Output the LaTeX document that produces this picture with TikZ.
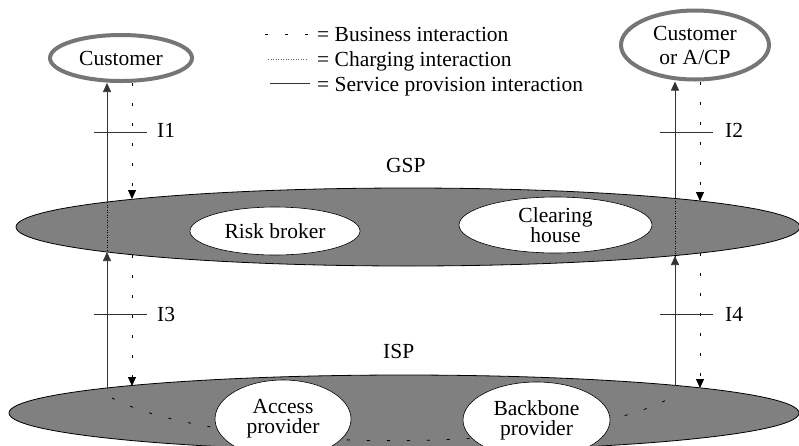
\documentclass[tikz,border=0pt]{standalone}
\usepackage{fontspec}
\setmainfont{Liberation Serif}
\usetikzlibrary{shapes.geometric,arrows.meta}
\definecolor{layergray}{RGB}{128,128,128}
\definecolor{rimgray}{RGB}{118,118,118}
\begin{document}
\begin{tikzpicture}[x=1pt,y=-1pt,
  every node/.style={font=\fontsize{21.5}{24}\selectfont},
  layer/.style={ellipse,draw=black,line width=0.8pt,fill=layergray,inner sep=0pt},
  role/.style={ellipse,draw=black,line width=0.6pt,fill=white,inner sep=0pt,align=center,font=\fontsize{21.5}{20}\selectfont},
  actor/.style={ellipse,draw=rimgray,line width=4pt,fill=white,inner sep=0pt,align=center},
  svc/.style={line width=0.7pt,draw=black!80},
  bus/.style={line width=0.8pt,dash pattern=on 3pt off 17pt},
  chg/.style={line width=0.6pt,dash pattern=on 1pt off 1.5pt},
  tip/.style={-{Triangle[width=8pt,length=9pt]}},
  lbl/.style={anchor=base west,inner sep=0pt}]
\useasboundingbox (0,0) rectangle (799,445);
\clip (0,0) rectangle (799,445);

% actors
\node[actor,minimum width=142pt,minimum height=46pt] (cust) at (121,58) {Customer};
\node[actor,minimum width=148pt,minimum height=69pt] (cacp) at (695,45) {Customer\\or A/CP};

% legend
\coordinate (lb1s) at (265,34); \coordinate (lb1e) at (313,34);
\coordinate (lb2s) at (268,59); \coordinate (lb2e) at (307,59);
\coordinate (lb3s) at (270,83); \coordinate (lb3e) at (310,83);
\draw[bus] (lb1s) -- (lb1e);
\draw[chg,black!60] (lb2s) -- (lb2e);
\draw[svc] (lb3s) -- (lb3e);
\node[lbl] (lg1) at (317,41.7) {= Business interaction};
\node[lbl] (lg2) at (317,66.7) {= Charging interaction};
\node[lbl] (lg3) at (317,91.7) {= Service provision interaction};

% GSP layer
\node[layer,minimum width=784pt,minimum height=78pt] (gsp) at (408,227) {};
\node[role,minimum width=170pt,minimum height=48pt] (risk) at (275,231) {Risk broker};
\node[role,minimum width=193pt,minimum height=56pt] (clear) at (555.5,225) {Clearing\\house};
\node[lbl] (gspl) at (386,172) {GSP};

% ISP layer
\node[layer,minimum width=790pt,minimum height=76pt] (isp) at (404,413) {};
\coordinate (cs) at (112,398); \coordinate (ce) at (672,397);
\draw[bus] (cs) .. controls (220,455) and (570,455) .. (ce);
\node[role,minimum width=136pt,minimum height=78pt] (acc) at (283,419) {Access\\provider};
\node[role,minimum width=147pt,minimum height=76pt] (bb) at (536.5,420) {Backbone\\provider};
\node[lbl] (ispl) at (383,358) {ISP};

% border points on layers
\coordinate (gL107t) at (107,202); \coordinate (gL107b) at (107,252);
\coordinate (gL132t) at (132,199); \coordinate (gL132b) at (132,255);
\coordinate (gR675t) at (675,198); \coordinate (gR675b) at (675,256);
\coordinate (gR700t) at (700,201); \coordinate (gR700b) at (700,253);
\coordinate (iL107) at (107,389); \coordinate (iL132) at (132,386);
\coordinate (iR675) at (675,386); \coordinate (iR700) at (700,388);

% upper interactions
\draw[svc,tip] (gL107t) -- (cust.south -| gL107t);
\draw[bus,tip] (cust.south -| gL132t) -- (gL132t);
\draw[svc,tip] (gR675t) -- (cacp.south -| gR675t);
\draw[bus,tip] (cacp.south -| gR700t) -- (gR700t);

% through GSP
\draw[chg,black] (gL107t) -- (gL107b);
\draw[chg,black] (gR675t) -- (gR675b);

% lower interactions
\draw[svc,tip] (iL107) -- (gL107b);
\draw[bus,tip] (gL132b) -- (iL132);
\draw[svc,tip] (iR675) -- (gR675b);
\draw[bus,tip] (gR700b) -- (iR700);

% interface ticks
\coordinate (t1a) at (94,132);  \coordinate (t1b) at (147,132);
\coordinate (t2a) at (660,132); \coordinate (t2b) at (713,132);
\coordinate (t3a) at (94,314);  \coordinate (t3b) at (147,314);
\coordinate (t4a) at (660,314); \coordinate (t4b) at (713,314);
\draw[svc] (t1a) -- (t1b);
\draw[svc] (t2a) -- (t2b);
\draw[svc] (t3a) -- (t3b);
\draw[svc] (t4a) -- (t4b);
\node[lbl] (i1) at (157,137.7) {I1};
\node[lbl] (i2) at (725,137.7) {I2};
\node[lbl] (i3) at (157,321) {I3};
\node[lbl] (i4) at (725,321) {I4};
\end{tikzpicture}
\end{document}
